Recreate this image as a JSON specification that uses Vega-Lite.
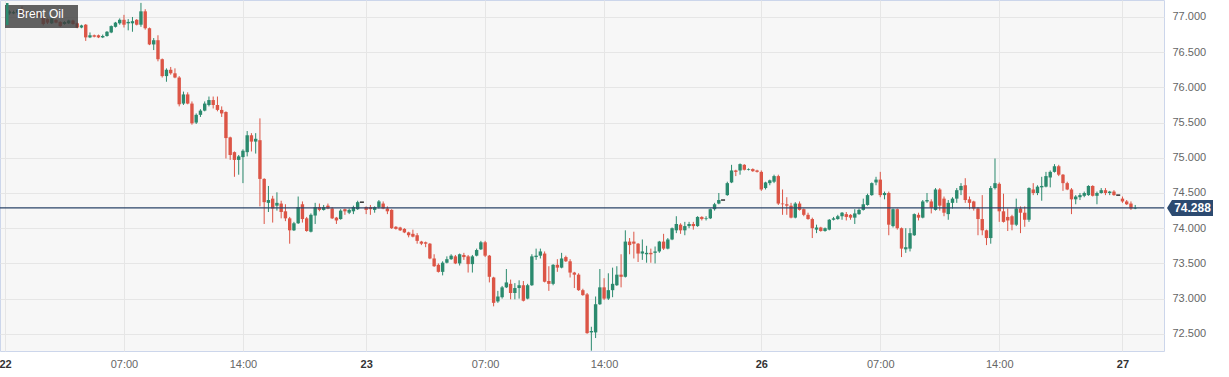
{
  "$schema": "https://vega.github.io/schema/vega-lite/v6.json",
  "width": 1164,
  "height": 351,
  "autosize": "none",
  "padding": {"left": 0, "top": 0, "right": 65, "bottom": 26},
  "background": "#ffffff",
  "config": {
    "view": {"fill": "#f7f7f7", "stroke": "#ccd6eb", "strokeWidth": 1},
    "font": "Liberation Sans"
  },
  "datasets": {
    "candles": [
      {"i":1,"o":77.05,"h":77.10,"l":77.03,"c":77.08},
      {"i":2,"o":77.05,"h":77.09,"l":77.04,"c":77.07},
      {"i":3,"o":77.06,"h":77.11,"l":77.03,"c":77.10},
      {"i":4,"o":77.11,"h":77.15,"l":77.01,"c":77.05},
      {"i":5,"o":77.07,"h":77.08,"l":77.02,"c":77.04},
      {"i":6,"o":77.05,"h":77.09,"l":77.03,"c":77.08},
      {"i":7,"o":77.07,"h":77.08,"l":77.02,"c":77.04},
      {"i":8,"o":77.05,"h":77.06,"l":77.00,"c":77.01},
      {"i":9,"o":77.01,"h":77.02,"l":76.88,"c":76.90},
      {"i":10,"o":76.97,"h":76.98,"l":76.90,"c":76.92},
      {"i":11,"o":76.91,"h":76.99,"l":76.90,"c":76.98},
      {"i":12,"o":76.96,"h":76.97,"l":76.91,"c":76.92},
      {"i":13,"o":76.93,"h":76.94,"l":76.86,"c":76.87},
      {"i":14,"o":76.90,"h":76.94,"l":76.89,"c":76.93},
      {"i":15,"o":76.91,"h":76.96,"l":76.90,"c":76.95},
      {"i":16,"o":76.95,"h":76.96,"l":76.89,"c":76.90},
      {"i":17,"o":76.91,"h":76.92,"l":76.84,"c":76.85},
      {"i":18,"o":76.85,"h":76.89,"l":76.84,"c":76.88},
      {"i":19,"o":76.89,"h":76.90,"l":76.66,"c":76.71},
      {"i":20,"o":76.71,"h":76.78,"l":76.70,"c":76.74},
      {"i":21,"o":76.74,"h":76.75,"l":76.71,"c":76.72},
      {"i":22,"o":76.74,"h":76.75,"l":76.70,"c":76.71},
      {"i":23,"o":76.71,"h":76.75,"l":76.70,"c":76.73},
      {"i":24,"o":76.73,"h":76.80,"l":76.72,"c":76.79},
      {"i":25,"o":76.78,"h":76.88,"l":76.77,"c":76.87},
      {"i":26,"o":76.86,"h":76.93,"l":76.85,"c":76.92},
      {"i":27,"o":76.91,"h":76.98,"l":76.89,"c":76.96},
      {"i":28,"o":76.96,"h":77.03,"l":76.85,"c":76.89},
      {"i":29,"o":76.91,"h":76.97,"l":76.81,"c":76.93},
      {"i":30,"o":76.91,"h":77.00,"l":76.79,"c":76.94},
      {"i":31,"o":76.96,"h":76.97,"l":76.88,"c":76.89},
      {"i":32,"o":76.89,"h":77.20,"l":76.86,"c":77.08},
      {"i":33,"o":77.08,"h":77.11,"l":76.82,"c":76.84},
      {"i":34,"o":76.84,"h":76.85,"l":76.60,"c":76.61},
      {"i":35,"o":76.61,"h":76.70,"l":76.53,"c":76.67},
      {"i":36,"o":76.67,"h":76.74,"l":76.37,"c":76.40},
      {"i":37,"o":76.40,"h":76.41,"l":76.14,"c":76.16},
      {"i":38,"o":76.16,"h":76.27,"l":76.08,"c":76.25},
      {"i":39,"o":76.25,"h":76.29,"l":76.18,"c":76.20},
      {"i":40,"o":76.20,"h":76.27,"l":76.13,"c":76.14},
      {"i":41,"o":76.14,"h":76.16,"l":75.73,"c":75.76},
      {"i":42,"o":75.77,"h":75.94,"l":75.75,"c":75.90},
      {"i":43,"o":75.90,"h":75.93,"l":75.76,"c":75.77},
      {"i":44,"o":75.77,"h":75.80,"l":75.47,"c":75.49},
      {"i":45,"o":75.50,"h":75.63,"l":75.48,"c":75.61},
      {"i":46,"o":75.61,"h":75.69,"l":75.58,"c":75.67},
      {"i":47,"o":75.67,"h":75.80,"l":75.66,"c":75.77},
      {"i":48,"o":75.75,"h":75.87,"l":75.73,"c":75.82},
      {"i":49,"o":75.82,"h":75.87,"l":75.70,"c":75.75},
      {"i":50,"o":75.75,"h":75.87,"l":75.66,"c":75.68},
      {"i":51,"o":75.68,"h":75.73,"l":75.58,"c":75.63},
      {"i":52,"o":75.65,"h":75.66,"l":74.99,"c":75.28},
      {"i":53,"o":75.29,"h":75.30,"l":74.97,"c":75.04},
      {"i":54,"o":75.08,"h":75.09,"l":74.73,"c":74.97},
      {"i":55,"o":74.97,"h":75.04,"l":74.76,"c":75.02},
      {"i":56,"o":75.01,"h":75.12,"l":74.64,"c":75.10},
      {"i":57,"o":75.08,"h":75.38,"l":75.02,"c":75.32},
      {"i":58,"o":75.32,"h":75.35,"l":75.09,"c":75.23},
      {"i":59,"o":75.23,"h":75.35,"l":75.06,"c":75.27},
      {"i":60,"o":75.25,"h":75.56,"l":74.31,"c":74.70},
      {"i":61,"o":74.70,"h":74.71,"l":74.06,"c":74.37},
      {"i":62,"o":74.36,"h":74.60,"l":74.23,"c":74.40},
      {"i":63,"o":74.42,"h":74.46,"l":74.08,"c":74.28},
      {"i":64,"o":74.32,"h":74.51,"l":74.25,"c":74.36},
      {"i":65,"o":74.35,"h":74.39,"l":74.14,"c":74.23},
      {"i":66,"o":74.24,"h":74.34,"l":74.10,"c":74.14},
      {"i":67,"o":74.14,"h":74.16,"l":73.78,"c":73.97},
      {"i":68,"o":73.97,"h":74.09,"l":73.96,"c":74.07},
      {"i":69,"o":74.07,"h":74.45,"l":74.06,"c":74.30},
      {"i":70,"o":74.34,"h":74.38,"l":74.08,"c":74.13},
      {"i":71,"o":74.14,"h":74.16,"l":73.95,"c":73.96},
      {"i":72,"o":73.95,"h":74.21,"l":73.94,"c":74.19},
      {"i":73,"o":74.18,"h":74.36,"l":74.06,"c":74.30},
      {"i":74,"o":74.30,"h":74.35,"l":74.24,"c":74.26},
      {"i":75,"o":74.26,"h":74.33,"l":74.25,"c":74.30},
      {"i":76,"o":74.32,"h":74.35,"l":74.27,"c":74.28},
      {"i":77,"o":74.28,"h":74.30,"l":74.13,"c":74.14},
      {"i":78,"o":74.15,"h":74.16,"l":74.06,"c":74.11},
      {"i":79,"o":74.13,"h":74.27,"l":74.12,"c":74.25},
      {"i":80,"o":74.27,"h":74.28,"l":74.19,"c":74.24},
      {"i":81,"o":74.22,"h":74.28,"l":74.20,"c":74.26},
      {"i":82,"o":74.24,"h":74.32,"l":74.20,"c":74.30},
      {"i":83,"o":74.27,"h":74.39,"l":74.26,"c":74.37},
      {"i":84,"o":74.37,"h":74.37,"l":74.37,"c":74.37},
      {"i":85,"o":74.30,"h":74.31,"l":74.20,"c":74.26},
      {"i":86,"o":74.30,"h":74.33,"l":74.19,"c":74.27},
      {"i":87,"o":74.26,"h":74.31,"l":74.22,"c":74.30},
      {"i":88,"o":74.30,"h":74.40,"l":74.28,"c":74.38},
      {"i":89,"o":74.35,"h":74.38,"l":74.27,"c":74.28},
      {"i":90,"o":74.28,"h":74.31,"l":74.20,"c":74.24},
      {"i":91,"o":74.26,"h":74.27,"l":73.99,"c":74.00},
      {"i":92,"o":74.02,"h":74.03,"l":73.98,"c":73.99},
      {"i":93,"o":74.01,"h":74.02,"l":73.96,"c":73.97},
      {"i":94,"o":73.99,"h":74.00,"l":73.93,"c":73.94},
      {"i":95,"o":73.94,"h":73.95,"l":73.87,"c":73.90},
      {"i":96,"o":73.92,"h":73.98,"l":73.87,"c":73.88},
      {"i":97,"o":73.90,"h":73.93,"l":73.78,"c":73.82},
      {"i":98,"o":73.81,"h":73.82,"l":73.76,"c":73.78},
      {"i":99,"o":73.80,"h":73.81,"l":73.73,"c":73.78},
      {"i":100,"o":73.78,"h":73.79,"l":73.56,"c":73.57},
      {"i":101,"o":73.57,"h":73.63,"l":73.45,"c":73.46},
      {"i":102,"o":73.48,"h":73.50,"l":73.37,"c":73.38},
      {"i":103,"o":73.38,"h":73.53,"l":73.33,"c":73.51},
      {"i":104,"o":73.51,"h":73.60,"l":73.50,"c":73.56},
      {"i":105,"o":73.56,"h":73.63,"l":73.55,"c":73.61},
      {"i":106,"o":73.60,"h":73.62,"l":73.49,"c":73.50},
      {"i":107,"o":73.50,"h":73.64,"l":73.47,"c":73.63},
      {"i":108,"o":73.62,"h":73.65,"l":73.55,"c":73.59},
      {"i":109,"o":73.60,"h":73.62,"l":73.37,"c":73.49},
      {"i":110,"o":73.49,"h":73.62,"l":73.37,"c":73.60},
      {"i":111,"o":73.61,"h":73.71,"l":73.60,"c":73.69},
      {"i":112,"o":73.70,"h":73.82,"l":73.69,"c":73.80},
      {"i":113,"o":73.80,"h":73.82,"l":73.59,"c":73.61},
      {"i":114,"o":73.61,"h":73.62,"l":73.23,"c":73.31},
      {"i":115,"o":73.30,"h":73.31,"l":72.89,"c":72.94},
      {"i":116,"o":72.96,"h":73.11,"l":72.94,"c":73.03},
      {"i":117,"o":73.02,"h":73.18,"l":73.00,"c":73.16},
      {"i":118,"o":73.16,"h":73.42,"l":73.15,"c":73.23},
      {"i":119,"o":73.21,"h":73.27,"l":72.99,"c":73.08},
      {"i":120,"o":73.08,"h":73.22,"l":72.99,"c":73.15},
      {"i":121,"o":73.15,"h":73.26,"l":73.00,"c":73.19},
      {"i":122,"o":73.19,"h":73.25,"l":72.96,"c":72.97},
      {"i":123,"o":73.00,"h":73.21,"l":72.99,"c":73.19},
      {"i":124,"o":73.19,"h":73.63,"l":73.18,"c":73.60},
      {"i":125,"o":73.59,"h":73.71,"l":73.55,"c":73.61},
      {"i":126,"o":73.61,"h":73.71,"l":73.57,"c":73.67},
      {"i":127,"o":73.64,"h":73.67,"l":73.23,"c":73.24},
      {"i":128,"o":73.25,"h":73.46,"l":73.11,"c":73.21},
      {"i":129,"o":73.21,"h":73.49,"l":73.19,"c":73.48},
      {"i":130,"o":73.48,"h":73.56,"l":73.38,"c":73.44},
      {"i":131,"o":73.44,"h":73.65,"l":73.43,"c":73.57},
      {"i":132,"o":73.59,"h":73.61,"l":73.52,"c":73.53},
      {"i":133,"o":73.53,"h":73.56,"l":73.30,"c":73.37},
      {"i":134,"o":73.37,"h":73.38,"l":73.15,"c":73.34},
      {"i":135,"o":73.34,"h":73.36,"l":73.11,"c":73.12},
      {"i":136,"o":73.12,"h":73.14,"l":73.04,"c":73.05},
      {"i":137,"o":73.06,"h":73.08,"l":72.50,"c":72.51},
      {"i":138,"o":72.52,"h":72.60,"l":72.26,"c":72.54},
      {"i":139,"o":72.52,"h":73.03,"l":72.44,"c":72.92},
      {"i":140,"o":72.92,"h":73.42,"l":72.91,"c":73.16},
      {"i":141,"o":73.16,"h":73.29,"l":72.98,"c":73.00},
      {"i":142,"o":73.00,"h":73.36,"l":72.98,"c":73.12},
      {"i":143,"o":73.12,"h":73.44,"l":73.02,"c":73.21},
      {"i":144,"o":73.19,"h":73.46,"l":73.18,"c":73.34},
      {"i":145,"o":73.34,"h":73.63,"l":73.16,"c":73.31},
      {"i":146,"o":73.31,"h":73.97,"l":73.30,"c":73.81},
      {"i":147,"o":73.81,"h":73.86,"l":73.63,"c":73.76},
      {"i":148,"o":73.81,"h":73.95,"l":73.57,"c":73.78},
      {"i":149,"o":73.78,"h":73.79,"l":73.52,"c":73.64},
      {"i":150,"o":73.64,"h":73.84,"l":73.55,"c":73.67},
      {"i":151,"o":73.63,"h":73.75,"l":73.51,"c":73.65},
      {"i":152,"o":73.65,"h":73.71,"l":73.51,"c":73.63},
      {"i":153,"o":73.65,"h":73.74,"l":73.50,"c":73.67},
      {"i":154,"o":73.67,"h":73.82,"l":73.65,"c":73.81},
      {"i":155,"o":73.81,"h":73.92,"l":73.69,"c":73.71},
      {"i":156,"o":73.71,"h":73.86,"l":73.70,"c":73.84},
      {"i":157,"o":73.84,"h":74.01,"l":73.83,"c":74.00},
      {"i":158,"o":73.97,"h":74.17,"l":73.93,"c":74.06},
      {"i":159,"o":74.05,"h":74.07,"l":73.92,"c":73.97},
      {"i":160,"o":73.97,"h":74.09,"l":73.90,"c":74.03},
      {"i":161,"o":74.03,"h":74.09,"l":74.00,"c":74.06},
      {"i":162,"o":74.06,"h":74.09,"l":73.98,"c":74.03},
      {"i":163,"o":74.03,"h":74.17,"l":74.02,"c":74.16},
      {"i":164,"o":74.16,"h":74.17,"l":74.11,"c":74.13},
      {"i":165,"o":74.13,"h":74.17,"l":74.11,"c":74.14},
      {"i":166,"o":74.14,"h":74.28,"l":74.13,"c":74.27},
      {"i":167,"o":74.27,"h":74.36,"l":74.25,"c":74.34},
      {"i":168,"o":74.35,"h":74.50,"l":74.34,"c":74.40},
      {"i":169,"o":74.40,"h":74.40,"l":74.40,"c":74.40},
      {"i":170,"o":74.47,"h":74.66,"l":74.46,"c":74.64},
      {"i":171,"o":74.65,"h":74.90,"l":74.64,"c":74.82},
      {"i":172,"o":74.82,"h":74.83,"l":74.74,"c":74.80},
      {"i":173,"o":74.82,"h":74.92,"l":74.76,"c":74.91},
      {"i":174,"o":74.90,"h":74.91,"l":74.82,"c":74.83},
      {"i":175,"o":74.83,"h":74.85,"l":74.82,"c":74.84},
      {"i":176,"o":74.84,"h":74.85,"l":74.80,"c":74.81},
      {"i":177,"o":74.82,"h":74.83,"l":74.79,"c":74.80},
      {"i":178,"o":74.80,"h":74.82,"l":74.53,"c":74.55},
      {"i":179,"o":74.57,"h":74.66,"l":74.55,"c":74.65},
      {"i":180,"o":74.64,"h":74.69,"l":74.61,"c":74.68},
      {"i":181,"o":74.66,"h":74.76,"l":74.64,"c":74.74},
      {"i":182,"o":74.74,"h":74.76,"l":74.33,"c":74.35},
      {"i":183,"o":74.35,"h":74.55,"l":74.19,"c":74.34},
      {"i":184,"o":74.34,"h":74.44,"l":74.19,"c":74.32},
      {"i":185,"o":74.32,"h":74.36,"l":74.14,"c":74.15},
      {"i":186,"o":74.15,"h":74.37,"l":74.14,"c":74.35},
      {"i":187,"o":74.35,"h":74.38,"l":74.25,"c":74.26},
      {"i":188,"o":74.27,"h":74.28,"l":74.17,"c":74.19},
      {"i":189,"o":74.19,"h":74.22,"l":74.12,"c":74.13},
      {"i":190,"o":74.13,"h":74.15,"l":73.86,"c":74.00},
      {"i":191,"o":73.98,"h":74.05,"l":73.93,"c":74.01},
      {"i":192,"o":74.01,"h":74.02,"l":73.95,"c":73.96},
      {"i":193,"o":73.96,"h":74.01,"l":73.95,"c":74.00},
      {"i":194,"o":73.98,"h":74.13,"l":73.97,"c":74.12},
      {"i":195,"o":74.12,"h":74.16,"l":74.11,"c":74.14},
      {"i":196,"o":74.13,"h":74.19,"l":74.12,"c":74.17},
      {"i":197,"o":74.17,"h":74.23,"l":74.12,"c":74.22},
      {"i":198,"o":74.20,"h":74.23,"l":74.11,"c":74.16},
      {"i":199,"o":74.19,"h":74.20,"l":74.12,"c":74.15},
      {"i":200,"o":74.15,"h":74.27,"l":74.06,"c":74.21},
      {"i":201,"o":74.20,"h":74.28,"l":74.19,"c":74.26},
      {"i":202,"o":74.26,"h":74.42,"l":74.25,"c":74.34},
      {"i":203,"o":74.33,"h":74.49,"l":74.32,"c":74.47},
      {"i":204,"o":74.47,"h":74.65,"l":74.46,"c":74.64},
      {"i":205,"o":74.65,"h":74.73,"l":74.61,"c":74.69},
      {"i":206,"o":74.69,"h":74.80,"l":74.44,"c":74.47},
      {"i":207,"o":74.47,"h":74.52,"l":74.41,"c":74.50},
      {"i":208,"o":74.50,"h":74.52,"l":73.90,"c":74.05},
      {"i":209,"o":74.03,"h":74.28,"l":74.01,"c":74.27},
      {"i":210,"o":74.27,"h":74.28,"l":73.98,"c":74.00},
      {"i":211,"o":74.00,"h":74.01,"l":73.59,"c":73.71},
      {"i":212,"o":73.70,"h":74.00,"l":73.65,"c":73.73},
      {"i":213,"o":73.71,"h":74.00,"l":73.67,"c":73.93},
      {"i":214,"o":73.90,"h":74.21,"l":73.89,"c":74.20},
      {"i":215,"o":74.19,"h":74.22,"l":74.11,"c":74.15},
      {"i":216,"o":74.15,"h":74.40,"l":74.14,"c":74.38},
      {"i":217,"o":74.38,"h":74.50,"l":74.36,"c":74.40},
      {"i":218,"o":74.38,"h":74.41,"l":74.21,"c":74.29},
      {"i":219,"o":74.26,"h":74.57,"l":74.25,"c":74.55},
      {"i":220,"o":74.55,"h":74.57,"l":74.25,"c":74.32},
      {"i":221,"o":74.42,"h":74.45,"l":74.17,"c":74.22},
      {"i":222,"o":74.20,"h":74.40,"l":74.12,"c":74.36},
      {"i":223,"o":74.36,"h":74.44,"l":74.28,"c":74.42},
      {"i":224,"o":74.42,"h":74.57,"l":74.36,"c":74.54},
      {"i":225,"o":74.54,"h":74.64,"l":74.47,"c":74.60},
      {"i":226,"o":74.61,"h":74.71,"l":74.36,"c":74.40},
      {"i":227,"o":74.41,"h":74.45,"l":74.27,"c":74.36},
      {"i":228,"o":74.38,"h":74.39,"l":74.25,"c":74.28},
      {"i":229,"o":74.28,"h":74.30,"l":73.90,"c":74.13},
      {"i":230,"o":74.13,"h":74.47,"l":73.90,"c":73.97},
      {"i":231,"o":73.97,"h":73.98,"l":73.76,"c":73.86},
      {"i":232,"o":73.86,"h":74.60,"l":73.78,"c":74.57},
      {"i":233,"o":74.57,"h":74.99,"l":74.55,"c":74.64},
      {"i":234,"o":74.63,"h":74.65,"l":74.09,"c":74.24},
      {"i":235,"o":74.24,"h":74.49,"l":74.08,"c":74.09},
      {"i":236,"o":74.16,"h":74.28,"l":73.96,"c":74.11},
      {"i":237,"o":74.17,"h":74.19,"l":73.97,"c":74.05},
      {"i":238,"o":74.05,"h":74.42,"l":74.03,"c":74.28},
      {"i":239,"o":74.28,"h":74.31,"l":73.93,"c":74.22},
      {"i":240,"o":74.22,"h":74.31,"l":74.02,"c":74.12},
      {"i":241,"o":74.12,"h":74.58,"l":74.09,"c":74.57},
      {"i":242,"o":74.55,"h":74.64,"l":74.47,"c":74.50},
      {"i":243,"o":74.50,"h":74.61,"l":74.47,"c":74.59},
      {"i":244,"o":74.58,"h":74.73,"l":74.39,"c":74.60},
      {"i":245,"o":74.59,"h":74.80,"l":74.58,"c":74.74},
      {"i":246,"o":74.72,"h":74.82,"l":74.58,"c":74.80},
      {"i":247,"o":74.80,"h":74.91,"l":74.79,"c":74.88},
      {"i":248,"o":74.88,"h":74.90,"l":74.74,"c":74.76},
      {"i":249,"o":74.76,"h":74.77,"l":74.53,"c":74.64},
      {"i":250,"o":74.64,"h":74.66,"l":74.54,"c":74.55},
      {"i":251,"o":74.55,"h":74.57,"l":74.20,"c":74.41},
      {"i":252,"o":74.41,"h":74.47,"l":74.34,"c":74.45},
      {"i":253,"o":74.44,"h":74.50,"l":74.40,"c":74.47},
      {"i":254,"o":74.46,"h":74.52,"l":74.44,"c":74.50},
      {"i":255,"o":74.47,"h":74.61,"l":74.46,"c":74.60},
      {"i":256,"o":74.60,"h":74.61,"l":74.45,"c":74.46},
      {"i":257,"o":74.46,"h":74.52,"l":74.34,"c":74.50},
      {"i":258,"o":74.50,"h":74.57,"l":74.49,"c":74.54},
      {"i":259,"o":74.54,"h":74.57,"l":74.47,"c":74.50},
      {"i":260,"o":74.50,"h":74.53,"l":74.47,"c":74.52},
      {"i":261,"o":74.52,"h":74.54,"l":74.46,"c":74.47},
      {"i":262,"o":74.47,"h":74.47,"l":74.47,"c":74.47},
      {"i":263,"o":74.42,"h":74.45,"l":74.36,"c":74.38},
      {"i":264,"o":74.38,"h":74.40,"l":74.33,"c":74.34},
      {"i":265,"o":74.35,"h":74.38,"l":74.26,"c":74.28},
      {"i":266,"o":74.28,"h":74.33,"l":74.27,"c":74.288}
    ],
    "last": [{"label": "Brent Oil", "price": 74.288}]
  },
  "layer": [
    {
      "data": {"name": "candles"},
      "transform": [{"filter": "datum.h != datum.l"}],
      "mark": {"type": "rule", "strokeWidth": 1},
      "encoding": {
        "x": {
          "field": "i", "type": "quantitative",
          "scale": {"domain": [0, 271.6], "nice": false, "zero": false},
          "axis": {
            "title": null,
            "values": [0, 28, 56, 85, 113, 141, 178, 206, 234, 263],
            "tickCount": 40,
            "labelExpr": "datum.value == 0 ? '22' : datum.value == 85 ? '23' : datum.value == 178 ? '26' : datum.value == 263 ? '27' : (datum.value == 28 || datum.value == 113 || datum.value == 206) ? '07:00' : '14:00'",
            "grid": true, "gridColor": "#e6e6e6", "gridWidth": 1,
            "ticks": false, "domain": false, "labelOverlap": false,
            "labelFontSize": 11, "labelFont": "Liberation Sans",
            "labelPadding": 7, "labelFlush": true,
            "labelColor": {"condition": {"test": "indexof([0,85,178,263], datum.value) >= 0", "value": "#333333"}, "value": "#666666"},
            "labelFontWeight": {"condition": {"test": "indexof([0,85,178,263], datum.value) >= 0", "value": "bold"}, "value": "normal"}
          }
        },
        "y": {
          "field": "l", "type": "quantitative",
          "scale": {"domain": [72.256, 77.241], "nice": false, "zero": false},
          "axis": {
            "title": null, "orient": "right",
            "values": [72.5, 73, 73.5, 74, 74.5, 75, 75.5, 76, 76.5, 77],
            "tickCount": 20,
            "format": ".3f", "labelOverlap": false,
            "grid": true, "gridColor": "#e6e6e6", "gridWidth": 1,
            "ticks": false, "domain": false,
            "labelFontSize": 11, "labelFont": "Liberation Sans",
            "labelColor": "#666666", "labelPadding": 8
          }
        },
        "y2": {"field": "h"},
        "color": {"condition": {"test": "datum.c < datum.o", "value": "#dc5546"}, "value": "#2b8a6e"}
      }
    },
    {
      "data": {"name": "candles"},
      "transform": [{"filter": "datum.h != datum.l"}],
      "mark": {"type": "bar", "size": 3.4},
      "encoding": {
        "x": {"field": "i", "type": "quantitative"},
        "y": {"field": "o", "type": "quantitative"},
        "y2": {"field": "c"},
        "color": {"condition": {"test": "datum.c < datum.o", "value": "#dc5546"}, "value": "#2b8a6e"}
      }
    },
    {
      "data": {"name": "candles"},
      "transform": [{"filter": "datum.h == datum.l"}],
      "mark": {"type": "tick", "orient": "horizontal", "size": 4, "thickness": 1.2, "color": "#000000", "opacity": 1},
      "encoding": {
        "x": {"field": "i", "type": "quantitative"},
        "y": {"field": "c", "type": "quantitative"}
      }
    },
    {
      "data": {"name": "last"},
      "mark": {"type": "rule", "strokeWidth": 1.2},
      "encoding": {
        "y": {"field": "price", "type": "quantitative"},
        "color": {
          "field": "label", "type": "nominal",
          "scale": {"range": ["#2b4468"]},
          "legend": {
            "title": "\u00a0", "titleOrient": "right", "titlePadding": 11,
            "titleFontSize": 12, "titleColor": "#ffffff",
            "orient": "top-left", "offset": 5, "padding": 3,
            "fillColor": "rgba(64,64,64,0.82)", "strokeColor": null,
            "labelColor": "#ffffff", "labelFontSize": 12, "labelFont": "Liberation Sans",
            "labelOffset": -3,
            "symbolType": "M-1.6,-2.2H-1.1V2.2H-1.6Z", "symbolSize": 100, "symbolStrokeWidth": 0,
            "encode": {"symbols": {"update": {"fill": {"value": "#2b8a6e"}, "stroke": {"value": "transparent"}, "strokeWidth": {"value": 0}}}}
          }
        }
      }
    },
    {
      "data": {"name": "last"},
      "mark": {"type": "point", "filled": true, "opacity": 1, "size": 4, "shape": "M3,0L8,-8H49V8H8Z", "color": "#2c4a70", "strokeWidth": 0},
      "encoding": {
        "x": {"value": "width"},
        "y": {"field": "price", "type": "quantitative"}
      }
    },
    {
      "data": {"name": "last"},
      "mark": {"type": "text", "dx": 28.5, "align": "center", "baseline": "middle", "fontWeight": "bold", "fontSize": 12, "font": "Liberation Sans", "color": "#ffffff"},
      "encoding": {
        "x": {"value": "width"},
        "y": {"field": "price", "type": "quantitative"},
        "text": {"field": "price", "type": "quantitative", "format": ".3f"}
      }
    }
  ]
}
